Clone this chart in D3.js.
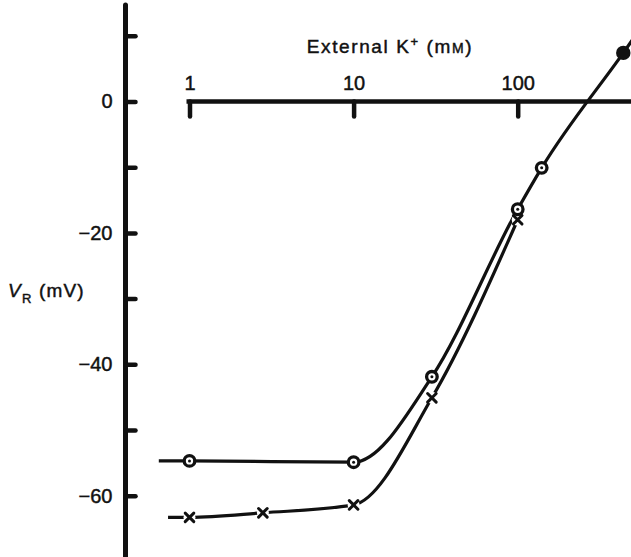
<!DOCTYPE html>
<html>
<head>
<meta charset="utf-8">
<script src="https://cdn.jsdelivr.net/npm/d3@7"></script>
<style>
  body { margin: 0; background: #fff; }
  text { font-family: "Liberation Sans", Arial, sans-serif; fill: #111; stroke: #111; stroke-width: 0.45; }
</style>
</head>
<body>
<svg id="chart"></svg>
<script>
// external K+ (mM) and resting potential (mV)
var circleK = [1, 10, 30, 100, 140];
var circleV = [-54.7, -54.9, -41.9, -16.4, -10.1];
var filledK = [440];
var filledV = [7.4];
var crossK = [1, 2.8, 10, 30, 100];
var crossV = [-63.3, -62.6, -61.4, -45.1, -18.0];
// where the drawn curves run out past the end points
var circleLineK = [0.65].concat(circleK, filledK, [600]);
var circleLineV = [-54.7].concat(circleV, filledV, [12.2]);
var crossLineK = [0.74].concat(crossK);
var crossLineV = [-63.3].concat(crossV);

var xTicks = [1, 10, 100];
var yTicks = [10, 0, -10, -20, -30, -40, -50, -60];
var yLabelled = [0, -20, -40, -60];

var width = 631, height = 557;
var svg = d3.select("#chart")
    .attr("width", width)
    .attr("height", height);

var xScale = d3.scaleLog()
    .domain([1, 100])
    .range([189.5, 517.7]);
var yScale = d3.scaleLinear()
    .domain([0, -60])
    .range([101.5, 495.7]);

function pts(ks, vs) {
  return ks.map(function(k, i) { return {k: k, v: vs[i]}; });
}

// y axis
var yAxisX = 125.5;
svg.append("line")
    .attr("x1", yAxisX).attr("x2", yAxisX)
    .attr("y1", 5).attr("y2", height)
    .attr("stroke", "#111").attr("stroke-width", 5)
    .attr("stroke-linecap", "round");

var y_axis = d3.axisLeft(yScale)
    .tickValues(yTicks)
    .tickSizeInner(-10)
    .tickSizeOuter(0)
    .tickPadding(13)
    .tickFormat(function(d) { return yLabelled.indexOf(d) >= 0 ? d3.format("d")(d) : ""; });

var gy = svg.append("g")
    .attr("transform", "translate(" + yAxisX + ",0)")
    .call(y_axis);
gy.select(".domain").remove();
gy.selectAll(".tick line")
    .attr("stroke", "#111").attr("stroke-width", 4.5)
    .attr("stroke-linecap", "round");
gy.selectAll(".tick text")
    .attr("font-size", 20)
    .attr("font-family", "Liberation Sans, Arial, sans-serif")
    .attr("fill", "#111");

// x axis, sitting on V = 0
var xAxisY = yScale(0);
svg.append("line")
    .attr("x1", xScale(1) - 3).attr("x2", width)
    .attr("y1", xAxisY).attr("y2", xAxisY)
    .attr("stroke", "#111").attr("stroke-width", 4.5);

var x_axis = d3.axisTop(xScale)
    .tickValues(xTicks)
    .tickSizeInner(-15)
    .tickSizeOuter(0)
    .tickPadding(12)
    .tickFormat(d3.format("d"));

var gx = svg.append("g")
    .attr("transform", "translate(0," + xAxisY + ")")
    .call(x_axis);
gx.select(".domain").remove();
gx.selectAll(".tick line")
    .attr("stroke", "#111").attr("stroke-width", 4.5)
    .attr("stroke-linecap", "round");
gx.selectAll(".tick text")
    .attr("font-size", 20)
    .attr("font-family", "Liberation Sans, Arial, sans-serif")
    .attr("fill", "#111");

// axis titles
var xt = svg.append("text")
    .attr("x", 390).attr("y", 53)
    .attr("text-anchor", "middle")
    .attr("font-size", 19)
    .attr("letter-spacing", 1.6);
xt.append("tspan").text("External K");
xt.append("tspan").attr("font-size", 13).attr("dy", -7).text("+");
xt.append("tspan").attr("dy", 7).text(" (m");
xt.append("tspan").attr("font-size", 14).text("M");
xt.append("tspan").text(")");

var yt = svg.append("text")
    .attr("x", 8).attr("y", 297)
    .attr("font-size", 19)
    .attr("letter-spacing", 1.2);
yt.append("tspan").attr("font-style", "italic").text("V");
yt.append("tspan").attr("font-size", 13).attr("dy", 6).text("R");
yt.append("tspan").attr("dy", -6).text(" (mV)");

// curves
var lineGenerator = d3.line()
    .x(function(d) { return xScale(d.k); })
    .y(function(d) { return yScale(d.v); })
    .curve(d3.curveMonotoneX);

svg.append("path")
    .attr("d", lineGenerator(pts(circleLineK, circleLineV)))
    .attr("fill", "none").attr("stroke", "#111").attr("stroke-width", 3.2);
svg.append("path")
    .attr("d", lineGenerator(pts(crossLineK, crossLineV)))
    .attr("fill", "none").attr("stroke", "#111").attr("stroke-width", 3.2);

// crosses (line is broken around each one)
var crosses = svg.append("g").selectAll("g")
    .data(pts(crossK, crossV))
    .join("g")
    .attr("transform", function(d) { return "translate(" + xScale(d.k) + "," + yScale(d.v) + ")"; });
crosses.append("circle").attr("r", 6).attr("fill", "#fff");
crosses.append("path")
    .attr("d", "M-4.3,-4.3L4.3,4.3M-4.3,4.3L4.3,-4.3")
    .attr("stroke", "#111").attr("stroke-width", 3)
    .attr("stroke-linecap", "round");

// open circles with a centre dot
var rings = svg.append("g").selectAll("g")
    .data(pts(circleK, circleV))
    .join("g")
    .attr("transform", function(d) { return "translate(" + xScale(d.k) + "," + yScale(d.v) + ")"; });
rings.append("circle").attr("r", 5.3)
    .attr("fill", "#fff").attr("stroke", "#111").attr("stroke-width", 3.3);
rings.append("circle").attr("r", 1.5).attr("fill", "#111");

// filled circle
svg.append("g").selectAll("circle")
    .data(pts(filledK, filledV))
    .join("circle")
    .attr("cx", function(d) { return xScale(d.k); })
    .attr("cy", function(d) { return yScale(d.v); })
    .attr("r", 7.2)
    .attr("fill", "#111");
</script>
</body>
</html>
